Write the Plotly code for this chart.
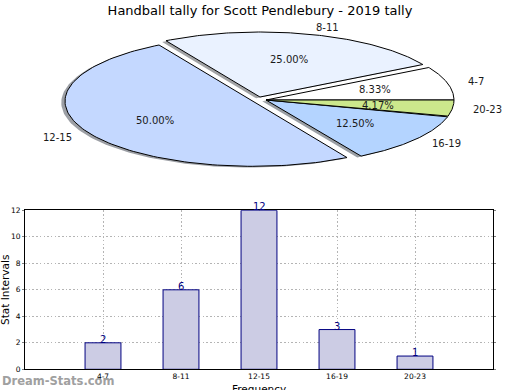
import numpy as np
import plotly.graph_objects as go

# ---------------- data ----------------
categories = ["4-7", "8-11", "12-15", "16-19", "20-23"]
counts = [2, 6, 12, 3, 1]
title_text = "Handball tally for Scott Pendlebury - 2019 tally"
y_ticks = [0, 2, 4, 6, 8, 10, 12]

# ---------------- styles ----------------
pie_colors = ["#ffffff", "#eaf2ff", "#c4d8ff", "#b4d4ff", "#cce88c"]
explode_xy = {"8-11": (-0.032, 0.046), "12-15": (-0.069, -0.02)}
FONT = "DejaVu Sans"
W, H = 520, 390
RX, RY = 188.0, 65.0      # pixels per pie unit (flattened pie)
CX, CY = 266.0, 100.0     # pie centre in pixels (from left/top)
PIE_BAND = 200.0          # pixel height of the pie area
BAR_L, BAR_R, BAR_T, BAR_B = 25.0, 493.0, 210.3, 369.3

fig = go.Figure()

total = float(sum(counts))
fracs = [c / total for c in counts]
starts = np.concatenate([[0.0], np.cumsum(fracs)[:-1]]) * 360.0
ends = np.cumsum(fracs) * 360.0


def hex_rgb(h):
    h = h.lstrip("#")
    return tuple(int(h[i:i + 2], 16) for i in (0, 2, 4))


wedges = []
for cat, t1, t2, col in zip(categories, starts, ends, pie_colors):
    ox, oy = explode_xy.get(cat, (0.0, 0.0))
    th = np.radians(np.linspace(t1, t2, 120))
    xs = np.concatenate([[ox], ox + np.cos(th), [ox]])
    ys = np.concatenate([[oy], oy + np.sin(th), [oy]])
    wedges.append((cat, xs, ys, col, ox, oy, t1, t2))

# shadows first
for cat, xs, ys, col, ox, oy, t1, t2 in wedges:
    r, g, b = hex_rgb(col)
    fig.add_trace(go.Scatter(
        x=xs - 0.02, y=ys - 0.02, mode="lines", fill="toself",
        fillcolor=f"rgba({int(0.3*r)},{int(0.3*g)},{int(0.3*b)},0.5)",
        line=dict(width=0), hoverinfo="skip", showlegend=False,
        xaxis="x2", yaxis="y2"))

for cat, xs, ys, col, ox, oy, t1, t2 in wedges:
    fig.add_trace(go.Scatter(
        x=xs, y=ys, mode="lines", fill="toself", fillcolor=col,
        line=dict(color="black", width=1), name=cat,
        showlegend=False, xaxis="x2", yaxis="y2"))

annotations = []
for (cat, xs, ys, col, ox, oy, t1, t2), f in zip(wedges, fracs):
    mid = np.radians((t1 + t2) / 2.0)
    lx, ly = ox + 1.1 * np.cos(mid), oy + 1.1 * np.sin(mid)
    annotations.append(dict(
        x=lx, y=ly, xref="x2", yref="y2", text=cat, showarrow=False,
        xanchor="left" if np.cos(mid) > 0 else "right", yanchor="middle",
        font=dict(family=FONT, size=10, color="#1a1a1a")))
    px, py = ox + 0.6 * np.cos(mid), oy + 0.6 * np.sin(mid)
    annotations.append(dict(
        x=px, y=py, xref="x2", yref="y2", text=f"{100*f:.2f}%",
        showarrow=False, xanchor="center", yanchor="middle",
        font=dict(family=FONT, size=10, color="#1a1a1a")))

# ---------------- bar chart ----------------
fig.add_trace(go.Bar(
    x=categories, y=counts, width=0.46,
    marker=dict(color="#ccccE4", line=dict(color="#000080", width=1)),
    showlegend=False, xaxis="x", yaxis="y"))

for cat, c in zip(categories, counts):
    annotations.append(dict(
        x=cat, y=c, xref="x", yref="y", text=str(c), showarrow=False,
        xanchor="center", yanchor="bottom", yshift=-4,
        font=dict(family=FONT, size=10, color="#000080")))

annotations += [
    dict(text="Stat Intervals", x=5 / W, y=1 - 290 / H, xref="paper", yref="paper",
         textangle=-90, showarrow=False, xanchor="center", yanchor="middle",
         font=dict(family=FONT, size=10.5, color="black")),
    dict(text="Frequency", x=259 / W, y=1 - 389 / H, xref="paper", yref="paper",
         showarrow=False, xanchor="center", yanchor="middle",
         font=dict(family=FONT, size=10.5, color="black")),
    dict(text="Dream-Stats.com", x=0, y=1 - 381 / H, xref="paper", yref="paper",
         showarrow=False, xanchor="left", yanchor="middle",
         font=dict(family=FONT, size=11.5, color="#a0a0a0", weight="bold")),
]

grid = dict(showgrid=True, gridcolor="#b4b4b4", griddash="1.5px,2.2px", gridwidth=1)

fig.update_layout(
    width=W, height=H, margin=dict(l=0, r=0, t=0, b=0, autoexpand=False),
    paper_bgcolor="white", plot_bgcolor="white",
    font=dict(family=FONT, color="black"),
    title=dict(text=title_text, x=0.5, xanchor="center", y=1 - 10 / H,
               yanchor="middle", font=dict(family=FONT, size=13, color="black")),
    xaxis2=dict(domain=[0, 1], range=[-CX / RX, (W - CX) / RX], visible=False,
                anchor="y2", fixedrange=True),
    yaxis2=dict(domain=[1 - PIE_BAND / H, 1],
                range=[-(PIE_BAND - CY) / RY, CY / RY], visible=False,
                anchor="x2", fixedrange=True),
    xaxis=dict(domain=[BAR_L / W, BAR_R / W], anchor="y", type="category",
               range=[-1, 5], showline=True, linecolor="black", linewidth=1,
               mirror=True, ticks="", tickfont=dict(family=FONT, size=7.5),
               layer="above traces", zeroline=False, **grid),
    yaxis=dict(domain=[1 - BAR_B / H, 1 - BAR_T / H], anchor="x",
               range=[0, 12], tickvals=y_ticks, showline=True,
               linecolor="black", linewidth=1, mirror="ticks",
               ticks="outside", ticklen=2, tickcolor="#808080",
               tickfont=dict(family=FONT, size=7.5), layer="above traces",
               zeroline=False, **grid),
    annotations=annotations,
    bargap=0.5,
)

fig.write_html(
    "out.html",
    config={"displayModeBar": False},
    post_script="document.body.style.margin='0';document.body.style.padding='0';",
)
